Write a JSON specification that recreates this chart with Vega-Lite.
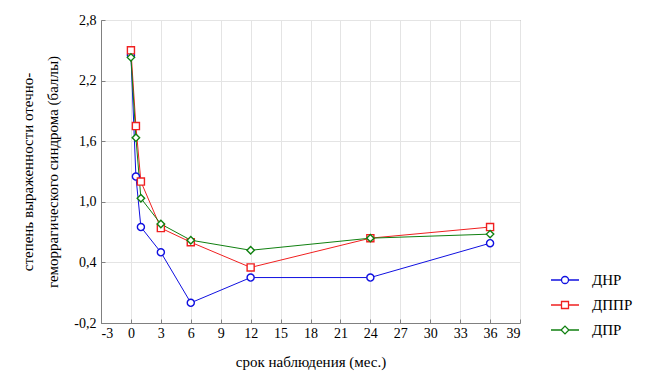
{
  "$schema": "https://vega.github.io/schema/vega-lite/v6.json",
  "width": 419,
  "height": 303,
  "autosize": {"type": "none"},
  "padding": {"left": 101, "top": 20, "right": 130, "bottom": 63},
  "background": "white",
  "config": {
    "view": {"stroke": "#808080", "strokeWidth": 1},
    "font": "Times New Roman, DejaVu Serif, serif",
    "axis": {
      "labelFont": "Times New Roman, DejaVu Serif, serif",
      "titleFont": "Times New Roman, DejaVu Serif, serif",
      "labelFontSize": 14,
      "titleFontSize": 15,
      "titleFontWeight": "normal",
      "labelColor": "#000",
      "titleColor": "#000",
      "gridColor": "#e4e4e4",
      "gridWidth": 1,
      "domainColor": "#808080",
      "tickColor": "#808080",
      "tickSize": -4
    },
    "legend": {
      "labelFont": "Times New Roman, DejaVu Serif, serif"
    }
  },
  "data": {
    "values": [
      {"t": 0, "v": 2.45, "g": "ДНР"},
      {"t": 0.5, "v": 1.25, "g": "ДНР"},
      {"t": 1, "v": 0.75, "g": "ДНР"},
      {"t": 3, "v": 0.5, "g": "ДНР"},
      {"t": 6, "v": 0.0, "g": "ДНР"},
      {"t": 12, "v": 0.25, "g": "ДНР"},
      {"t": 24, "v": 0.25, "g": "ДНР"},
      {"t": 36, "v": 0.59, "g": "ДНР"},
      {"t": 0, "v": 2.5, "g": "ДППР"},
      {"t": 0.5, "v": 1.75, "g": "ДППР"},
      {"t": 1, "v": 1.2, "g": "ДППР"},
      {"t": 3, "v": 0.74, "g": "ДППР"},
      {"t": 6, "v": 0.6, "g": "ДППР"},
      {"t": 12, "v": 0.35, "g": "ДППР"},
      {"t": 24, "v": 0.64, "g": "ДППР"},
      {"t": 36, "v": 0.75, "g": "ДППР"},
      {"t": 0, "v": 2.43, "g": "ДПР"},
      {"t": 0.5, "v": 1.635, "g": "ДПР"},
      {"t": 1, "v": 1.035, "g": "ДПР"},
      {"t": 3, "v": 0.78, "g": "ДПР"},
      {"t": 6, "v": 0.62, "g": "ДПР"},
      {"t": 12, "v": 0.52, "g": "ДПР"},
      {"t": 24, "v": 0.64, "g": "ДПР"},
      {"t": 36, "v": 0.68, "g": "ДПР"}
    ]
  },
  "encoding": {
    "x": {
      "field": "t", "type": "quantitative",
      "scale": {"domain": [-3, 39], "nice": false, "zero": false},
      "axis": {
        "values": [-3, 0, 3, 6, 9, 12, 15, 18, 21, 24, 27, 30, 33, 36, 39],
        "labelExpr": "replace(format(datum.value, 'd'), '\u2212', '-')",
        "title": "срок наблюдения (мес.)",
        "labelPadding": 7,
        "titlePadding": 14
      }
    },
    "y": {
      "field": "v", "type": "quantitative",
      "scale": {"domain": [-0.2, 2.8], "nice": false, "zero": false},
      "axis": {
        "values": [-0.2, 0.4, 1.0, 1.6, 2.2, 2.8],
        "labelExpr": "replace(replace(format(datum.value, '.1f'), '.', ','), '\u2212', '-')",
        "title": ["степень выраженности отечно-", "геморрагического синдрома (баллы)"],
        "titleLineHeight": 25,
        "labelPadding": 9,
        "titlePadding": 13
      }
    },
    "color": {
      "field": "g", "type": "nominal",
      "scale": {"domain": ["ДНР", "ДППР", "ДПР"], "range": ["#1010e0", "#f02020", "#108010"]},
      "legend": {
        "orient": "none",
        "legendX": 449,
        "legendY": 245,
        "title": null,
        "labelFontSize": 15,
        "labelColor": "#000",
        "symbolSize": 784,
        "symbolStrokeWidth": 1.3,
        "symbolFillColor": "white",
        "labelOffset": 12,
        "rowPadding": 2,
        "encode": {
          "symbols": {
            "update": {
              "shape": {"signal": "datum.value == 'ДНР' ? 'M-1,0H-0.25A0.25,0.25 0 1,1 0.25,0A0.25,0.25 0 1,1 -0.25,0M0.25,0H1' : datum.value == 'ДППР' ? 'M-1,0H-0.25M0.25,0H1M-0.25,-0.25H0.25V0.25H-0.25Z' : 'M-1,0H-0.28M0.28,0H1M-0.28,0L0,-0.28L0.28,0L0,0.28Z'"},
              "fill": {"value": "white"}
            }
          }
        }
      }
    }
  },
  "layer": [
    {
      "mark": {"type": "line", "strokeWidth": 1},
      "encoding": {"detail": {"field": "g"}}
    },
    {
      "transform": [{"filter": "datum.g == 'ДНР'"}],
      "mark": {"type": "point", "shape": "circle", "filled": false, "fill": "white", "fillOpacity": 1, "strokeWidth": 1.4, "size": 50, "opacity": 1}
    },
    {
      "transform": [{"filter": "datum.g == 'ДППР'"}],
      "mark": {"type": "point", "shape": "square", "filled": false, "fill": "white", "fillOpacity": 1, "strokeWidth": 1.4, "size": 50, "opacity": 1}
    },
    {
      "transform": [{"filter": "datum.g == 'ДПР'"}],
      "mark": {"type": "point", "shape": "diamond", "filled": false, "fill": "white", "fillOpacity": 1, "strokeWidth": 1.4, "size": 55, "opacity": 1}
    }
  ]
}
